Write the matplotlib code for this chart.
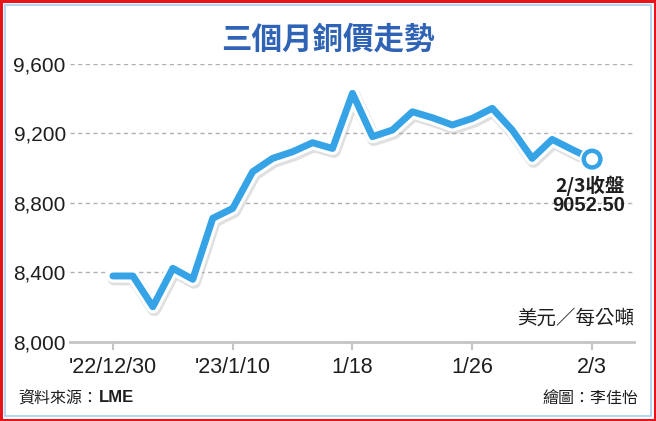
import matplotlib
matplotlib.use('Agg')
import matplotlib.pyplot as plt
import matplotlib.patheffects as pe
from matplotlib.patches import Rectangle

plt.rcParams['font.family'] = ['Noto Sans CJK TC', 'DejaVu Sans']
latin = ['Liberation Sans Narrow', 'Liberation Sans', 'DejaVu Sans']

# trading days, 2022/12/30 - 2023/2/3 (LME copper, USD per tonne)
dates = ['12/30', '1/3', '1/4', '1/5', '1/6', '1/9', '1/10', '1/11', '1/12',
         '1/13', '1/16', '1/17', '1/18', '1/19', '1/20', '1/23', '1/24',
         '1/25', '1/26', '1/27', '1/30', '1/31', '2/1', '2/2', '2/3']
prices = [8380, 8380, 8203, 8424, 8361, 8712, 8769, 8980, 9057,
          9095, 9147, 9114, 9431, 9182, 9220, 9325, 9291,
          9249, 9287, 9345, 9220, 9057, 9166, 9108, 9052.5]
tick_idx = [0, 6, 12, 18, 24]
tick_labels = ["'22/12/30", "'23/1/10", '1/18', '1/26', '2/3']
y_ticks = [8000, 8400, 8800, 9200, 9600]

blue = '#36a3e6'
txt = '#1e1e1e'

fig = plt.figure(figsize=(6.56, 4.21), dpi=100)
ax = fig.add_axes([70 / 656, 1 - 342 / 421, 564 / 656, 278 / 421])

x = list(range(len(prices)))
ax.plot(x, prices, color=blue, lw=5, solid_joinstyle='round',
        solid_capstyle='round', zorder=3, clip_on=False,
        path_effects=[pe.SimpleLineShadow(offset=(1, -1.8), shadow_color='#999999',
                                          alpha=0.3, linewidth=10),
                      pe.Stroke(linewidth=9.5, foreground='white'),
                      pe.Normal()])
ax.plot(x[-1], prices[-1], 'o', ms=12, mfc='white', mec=blue, mew=3.2,
        zorder=4, clip_on=False,
        path_effects=[pe.Stroke(linewidth=6, foreground='white'), pe.Normal()])

ax.set_xlim(-2.15, 26.1)
ax.set_ylim(8000, 9600)
ax.set_yticks(y_ticks)
ax.set_yticklabels([f'{v:,}' for v in y_ticks], fontsize=15, color=txt,
                   family=latin)
ax.set_xticks(tick_idx)
ax.set_xticklabels(tick_labels, fontsize=15.5, color=txt, family=latin)
ax.tick_params(axis='y', length=0, pad=3)
ax.tick_params(axis='x', length=6, width=1.5, color='#c4c4c4', pad=5)
for v in y_ticks[1:]:
    ax.axhline(v, color='#b0b0b0', lw=1, ls=(0, (3, 2.5)), zorder=1)
for s in ['top', 'right', 'left']:
    ax.spines[s].set_visible(False)
ax.spines['bottom'].set_color('#c4c4c4')
ax.spines['bottom'].set_linewidth(2)

ax.text(25.65, 8900, '2/3收盤', ha='right', va='center', fontsize=14,
        fontweight='bold', color=txt, family=['Liberation Sans Narrow', 'Noto Sans CJK TC'])
ax.text(25.65, 8785, '9052.50', ha='right', va='center', fontsize=14.5,
        fontweight='bold', color=txt, family=latin)
ax.text(1.0, 0.085, '美元／每公噸', transform=ax.transAxes, ha='right',
        va='center', fontsize=14, color=txt)

fig.text(0.5, 1 - 40 / 421, '三個月銅價走勢', ha='center', va='center',
         fontsize=22, fontweight='bold', color='#2f63b5')
src = fig.text(18 / 656, 1 - 398 / 421, '資料來源：', ha='left', va='center',
               fontsize=11.5, color=txt)
fig.text(99 / 656, 1 - 398 / 421, 'LME', ha='left', va='center', fontsize=12,
         color=txt, fontweight='bold', family=latin)
fig.text(638 / 656, 1 - 398 / 421, '繪圖：李佳怡', ha='right', va='center',
         fontsize=11.5, color=txt)

# frame
fig.patches.append(Rectangle((0.002, 0.003), 0.996, 0.994, transform=fig.transFigure,
                             fill=False, ec='#e8141c', lw=2.2))
fig.patches.append(Rectangle((5 / 656, 5 / 421), 646 / 656, 411 / 421,
                             transform=fig.transFigure, fill=False,
                             ec='#a8cff0', lw=1.2))

fig.savefig('out.png', dpi=100)
